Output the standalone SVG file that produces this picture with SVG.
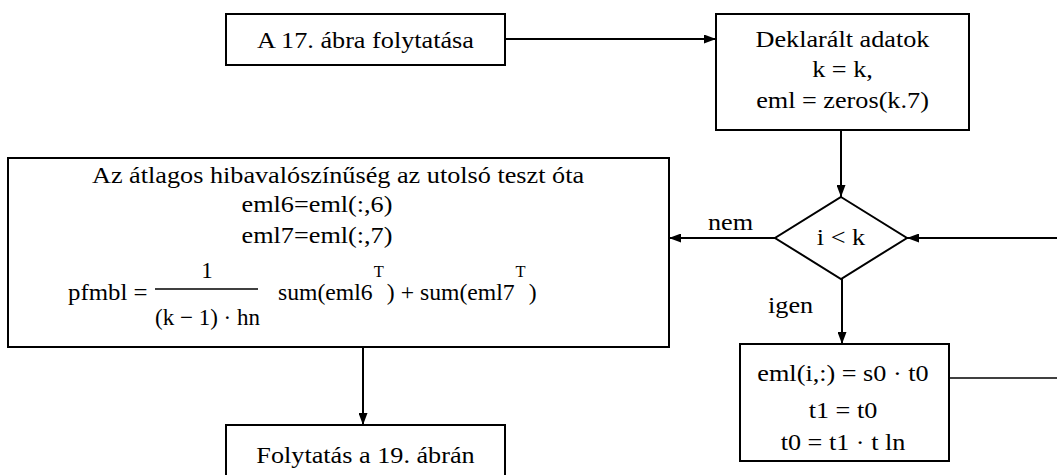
<svg xmlns="http://www.w3.org/2000/svg" width="1057" height="475" viewBox="0 0 1057 475">
  <style>
    .box { fill: #fff; stroke: #000; stroke-width: 2; }
    .edge { fill: none; stroke: #000; stroke-width: 2; }
    .thin { fill: none; stroke: #000; stroke-width: 1.5; }
    text { font-family: "Liberation Serif", "Times New Roman", "DejaVu Serif", serif; font-size: 23px; fill: #000; }
    .c { text-anchor: middle; }
    .sup { font-size: 16px; }
  </style>
  <defs>
    <marker id="arrow" markerUnits="userSpaceOnUse" markerWidth="12" markerHeight="9" refX="12" refY="4.5" orient="auto">
      <path d="M0,0 L12,4.5 L0,9 z" fill="#000"/>
    </marker>
  </defs>
  <rect width="1057" height="475" fill="#fff"/>

  <!-- connectors -->
  <g id="connectors">
    <line class="edge" x1="505" y1="39" x2="716" y2="39" marker-end="url(#arrow)"/>
    <line class="edge" x1="841" y1="130" x2="841" y2="197" marker-end="url(#arrow)"/>
    <line class="edge" x1="1057" y1="238" x2="907" y2="238" marker-end="url(#arrow)"/>
    <line class="edge" x1="775" y1="238" x2="669" y2="238" marker-end="url(#arrow)"/>
    <line class="edge" x1="842" y1="279" x2="842" y2="344" marker-end="url(#arrow)"/>
    <line class="thin" x1="946" y1="378" x2="1057" y2="378"/>
    <line class="edge" x1="363" y1="347" x2="363" y2="425" marker-end="url(#arrow)"/>
    <text transform="translate(708 230) scale(1.14 1)">nem</text>
    <text transform="translate(768 313) scale(1.14 1)">igen</text>
  </g>

  <!-- start -->
  <g id="start">
    <rect class="box" x="226" y="14" width="279" height="51"/>
    <text class="c" transform="translate(365.5 48) scale(1.14 1)">A 17. ábra folytatása</text>
  </g>

  <!-- declarations -->
  <g id="declare">
    <rect class="box" x="716" y="14" width="253" height="116"/>
    <text class="c" transform="translate(842.5 47) scale(1.14 1)">Deklarált adatok</text>
    <text class="c" transform="translate(842.5 77) scale(1.14 1)">k = k,</text>
    <text class="c" transform="translate(842.5 108) scale(1.14 1)">eml = zeros(k.7)</text>
  </g>

  <!-- loop condition -->
  <g id="condition">
    <polygon class="box" points="841,197 907,238 841,279 775,238"/>
    <text class="c" transform="translate(841 245) scale(1.14 1)">i &lt; k</text>
  </g>

  <!-- average error probability -->
  <g id="average">
    <rect class="box" x="8" y="158" width="661" height="189"/>
    <text class="c" transform="translate(338 183) scale(1.14 1)">Az átlagos hibavalószínűség az utolsó teszt óta</text>
    <text class="c" transform="translate(317 212) scale(1.14 1)">eml6=eml(:,6)</text>
    <text class="c" transform="translate(317 243) scale(1.14 1)">eml7=eml(:,7)</text>
    <text transform="translate(68 300) scale(1.08 1)">pfmbl =</text>
    <line x1="155" y1="289" x2="258" y2="289" stroke="#000" stroke-width="1.3"/>
    <text class="c" transform="translate(207 278)">1</text>
    <text transform="translate(155 325)">(k − 1) · hn</text>
    <text transform="translate(278 300) scale(1.03 1)">sum(eml6<tspan class="sup" dy="-23" dx="1">T</tspan><tspan dy="23" dx="3">) + sum(eml7</tspan><tspan class="sup" dy="-23" dx="1">T</tspan><tspan dy="23" dx="3">)</tspan></text>
  </g>

  <!-- loop body -->
  <g id="body">
    <rect class="box" x="740" y="344" width="209" height="117"/>
    <text class="c" transform="translate(843 381) scale(1.14 1)">eml(i,:) = s0 · t0</text>
    <text class="c" transform="translate(843 418) scale(1.14 1)">t1 = t0</text>
    <text class="c" transform="translate(843 450) scale(1.14 1)">t0 = t1 · t ln</text>
  </g>

  <!-- continuation -->
  <g id="next">
    <rect class="box" x="226" y="425" width="279" height="60"/>
    <text class="c" transform="translate(365.5 463) scale(1.14 1)">Folytatás a 19. ábrán</text>
  </g>
</svg>
